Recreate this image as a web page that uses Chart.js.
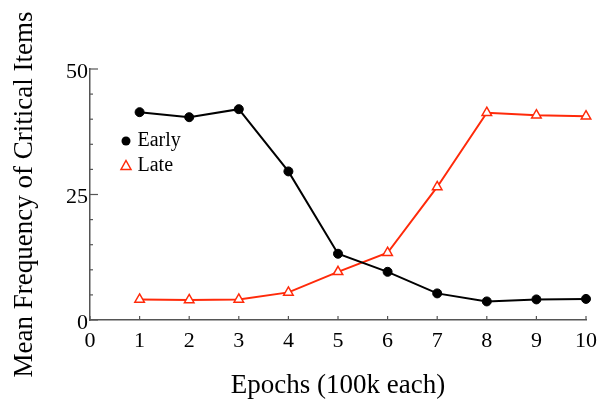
<!DOCTYPE html>
<html>
<head>
<meta charset="utf-8">
<script src="https://cdn.jsdelivr.net/npm/chart.js@4/dist/chart.umd.min.js"></script>
<style>
  html, body { margin: 0; padding: 0; background: #fff; }
  #wrap { width: 605px; height: 402px; position: relative; }
</style>
</head>
<body>
<div id="wrap"><canvas id="chart"></canvas></div>
<script>
// Data
var epochs = [1, 2, 3, 4, 5, 6, 7, 8, 9, 10];
var earlyValues = [41.4, 40.4, 42.0, 29.6, 13.2, 9.6, 5.3, 3.7, 4.1, 4.2];
var lateValues = [4.1, 4.0, 4.1, 5.5, 9.6, 13.4, 26.5, 41.3, 40.8, 40.6];
var yTickValues = [0, 5, 10, 15, 20, 25, 30, 35, 40, 45, 50];
var yLabelTicks = [0, 25, 50];
var seriesNames = ['Early', 'Late'];

var serif = "'Liberation Serif', 'Times New Roman', serif";
var axisColor = '#555';
var red = '#ff2a0a';

function toPoints(values) {
    return epochs.map(function(e, i) { return { x: e, y: values[i] }; });
}

/**
 * Inward tick marks (major at labelled values, minor elsewhere)
 */
var inwardTicks = {
    id: 'inwardTicks',
    afterDraw: function(chart) {
        var ctx = chart.ctx;
        var xs = chart.scales.x, ys = chart.scales.y;
        var left = chart.chartArea.left, bottom = chart.chartArea.bottom;
        ctx.save();
        ctx.strokeStyle = axisColor;
        ctx.lineWidth = 1.2;
        ys.ticks.forEach(function(t) {
            var py = ys.getPixelForValue(t.value);
            var len = yLabelTicks.indexOf(t.value) >= 0 ? 8 : 3;
            ctx.beginPath();
            ctx.moveTo(left, py);
            ctx.lineTo(left + len, py);
            ctx.stroke();
        });
        xs.ticks.forEach(function(t) {
            var px = xs.getPixelForValue(t.value);
            ctx.beginPath();
            ctx.moveTo(px, bottom);
            ctx.lineTo(px, bottom - 4);
            ctx.stroke();
        });
        ctx.restore();
    }
};

/**
 * Legend drawn inside the plot area
 */
var innerLegend = {
    id: 'innerLegend',
    afterDraw: function(chart) {
        var ctx = chart.ctx;
        var x0 = 126, rows = [141, 165.5];
        ctx.save();
        chart.data.datasets.forEach(function(ds, i) {
            var y = rows[i];
            if (ds.pointStyle === 'triangle') {
                ctx.beginPath();
                ctx.moveTo(x0, y - 5);
                ctx.lineTo(x0 + 5, y + 4);
                ctx.lineTo(x0 - 5, y + 4);
                ctx.closePath();
                ctx.fillStyle = '#fff';
                ctx.fill();
                ctx.strokeStyle = ds.pointBorderColor;
                ctx.lineWidth = 1.5;
                ctx.stroke();
            } else {
                ctx.beginPath();
                ctx.arc(x0, y, 4.5, 0, Math.PI * 2);
                ctx.fillStyle = ds.pointBackgroundColor;
                ctx.fill();
            }
            ctx.fillStyle = '#000';
            ctx.font = '20px ' + serif;
            ctx.textAlign = 'left';
            ctx.textBaseline = 'middle';
            ctx.fillText(ds.label, 137.5, y);
        });
        ctx.restore();
    }
};

new Chart(document.getElementById('chart'), {
    type: 'line',
    data: {
        datasets: [{
            label: seriesNames[0],
            data: toPoints(earlyValues),
            borderColor: '#000',
            borderWidth: 2,
            pointStyle: 'circle',
            pointRadius: 4.5,
            pointBackgroundColor: '#000',
            pointBorderColor: '#000',
            pointBorderWidth: 1,
            tension: 0,
            clip: false
        }, {
            label: seriesNames[1],
            data: toPoints(lateValues),
            borderColor: red,
            borderWidth: 2,
            pointStyle: 'triangle',
            pointRadius: 5.5,
            pointBackgroundColor: '#fff',
            pointBorderColor: red,
            pointBorderWidth: 1.5,
            tension: 0,
            clip: false
        }]
    },
    options: {
        responsive: true,
        maintainAspectRatio: false,
        animation: false,
        layout: {
            padding: { left: 0, right: 13, top: 69, bottom: 0 }
        },
        plugins: {
            legend: { display: false },
            tooltip: { enabled: false }
        },
        scales: {
            x: {
                type: 'linear',
                min: 0,
                max: 10,
                afterFit: function(s) { s.height = 82; },
                ticks: {
                    stepSize: 1,
                    color: '#000',
                    padding: 8,
                    font: { family: serif, size: 22 }
                },
                grid: { display: true, drawOnChartArea: false, drawTicks: false },
                border: { display: true, color: axisColor, width: 1.5 },
                title: {
                    display: true,
                    text: 'Epochs (100k each)',
                    color: '#000',
                    padding: { top: 0, bottom: 0 },
                    font: { family: serif, size: 27 }
                }
            },
            y: {
                min: 0,
                max: 50,
                afterFit: function(s) { s.width = 90; },
                afterBuildTicks: function(s) {
                    s.ticks = yTickValues.map(function(v) { return { value: v }; });
                },
                ticks: {
                    color: '#000',
                    padding: 2,
                    labelOffset: 3,
                    autoSkip: false,
                    font: { family: serif, size: 22 },
                    callback: function(value) {
                        return yLabelTicks.indexOf(value) >= 0 ? value : '';
                    }
                },
                grid: { display: true, drawOnChartArea: false, drawTicks: false },
                border: { display: true, color: axisColor, width: 1.5 },
                title: {
                    display: true,
                    text: 'Mean Frequency of Critical Items',
                    color: '#000',
                    padding: { top: 9, bottom: 0 },
                    font: { family: serif, size: 27 }
                }
            }
        }
    },
    plugins: [inwardTicks, innerLegend]
});
</script>
</body>
</html>
